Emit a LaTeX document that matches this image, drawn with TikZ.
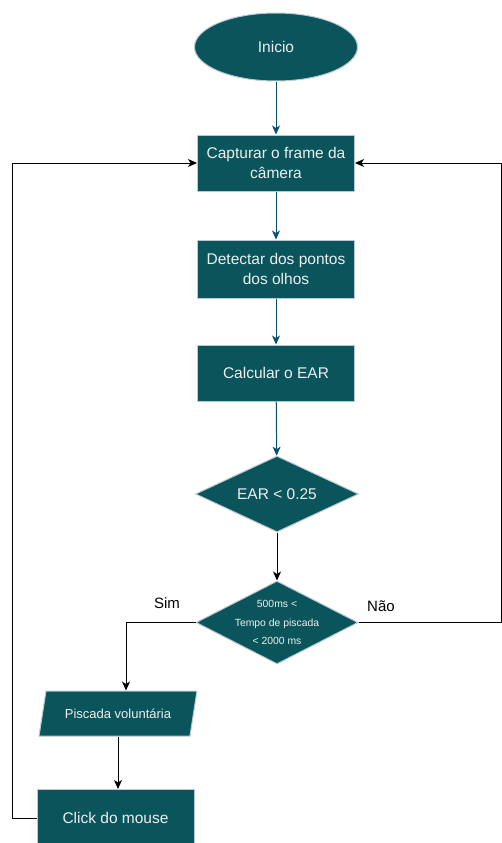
\documentclass[tikz,border=0pt]{standalone}
\usepackage{fontspec}
\setmainfont{Liberation Sans}
\usepackage{tikz}
\usetikzlibrary{positioning,shapes.geometric,arrows.meta}

\definecolor{caixa}{HTML}{09555B}
\definecolor{borda}{HTML}{BAC8D3}
\definecolor{letra}{HTML}{EEEEEE}
\definecolor{seta}{HTML}{0B4D6A}

\tikzset{
	bloco/.style={draw=borda, fill=caixa, text=letra, line width=1pt, align=center},
	setaazul/.style={draw=seta, line width=1pt, -{Stealth[length=9pt,width=8pt,inset=2.5pt]}},
	setapreta/.style={draw=black, line width=1pt, -{Stealth[length=9pt,width=8pt,inset=2.5pt]}}
}

\begin{document}
\begin{tikzpicture}[x=1pt,y=1pt]
		
		\useasboundingbox (0,0) rectangle (502,-843);
		
		% Inicio
		\node [bloco,
		ellipse,
		minimum width=163pt,
		minimum height=68pt,
		font=\fontsize{15.5}{20}\selectfont
		] (inicio) at (276,-47) {Inicio};
		
		% Captura
		\node [bloco,
		rectangle,
		minimum width=157pt,
		minimum height=56pt,
		font=\fontsize{15.5}{20}\selectfont,
		below= 53pt of inicio
		] (captura) {Capturar o frame da\\câmera};
		
		\node [bloco,
		rectangle,
		minimum width=157pt,
		minimum height=58pt,
		font=\fontsize{15.5}{20}\selectfont,
		below= 48pt of captura
		] (detectar) {Detectar dos pontos\\dos olhos};
		
		\node [bloco,
		rectangle,
		minimum width=157pt,
		minimum height=56pt,
		font=\fontsize{15.5}{20}\selectfont,
		below= 46pt of detectar
		] (calcular) {Calcular o EAR};
		
		% Decisoes
		\node [bloco,
		diamond,
		inner sep=0pt,
		minimum width=163pt,
		minimum height=76pt,
		label={[text=letra, font=\fontsize{15.5}{20}\selectfont]center:EAR < 0.25}
		] (ear) at (277,-494) {};
		
		\node [bloco,
		diamond,
		inner sep=0pt,
		minimum width=162pt,
		minimum height=83pt,
		label={[text=letra, align=center, font=\fontsize{10.4}{18.5}\selectfont]center:500ms <\\Tempo de piscada\\< 2000 ms},
		below= 48pt of ear
		] (tempo) {};
		
		% Piscada
		\node [bloco,
		trapezium,
		trapezium left angle=62,
		trapezium right angle=118,
		trapezium stretches=true,
		inner sep=0pt,
		minimum width=158pt,
		minimum height=45pt,
		font=\fontsize{13}{18}\selectfont
		] (piscada) at (118,-713.5) {Piscada voluntária};
		
		\node [bloco,
		rectangle,
		minimum width=157pt,
		minimum height=57pt,
		font=\fontsize{15.5}{20}\selectfont
		] (click) at (115.5,-818) {Click do mouse};
		
		\node [font=\fontsize{15}{20}\selectfont] (sim) at (167,-603) {Sim};
		\node [font=\fontsize{15}{20}\selectfont] (nao) at (381,-606) {Não};
		
		\coordinate (dir) at (501.5,0);
		\coordinate (esq) at (12,0);
		\coordinate (desce) at (126,0);
		
		\draw[setaazul] (inicio) -- (captura);
		
		\draw[setaazul] (captura) -- (detectar);
		
		\draw[setaazul] (detectar) -- (calcular);
		
		\draw[setaazul] (calcular) -- (ear);
		
		\draw[setapreta] (ear) -- (tempo);
		
		\draw[setapreta] (tempo.west) -- (tempo.west -| desce) -- (desce |- piscada.north);
		
		\draw[setapreta] (tempo.east) -- (tempo.east -| dir) |- (captura.east);
		
		\draw[setapreta] (piscada.south) -- (piscada.south |- click.north);
		
		\draw[setapreta] (click.west) -- (click.west -| esq) |- (captura.west);
		
\end{tikzpicture}
\end{document}
